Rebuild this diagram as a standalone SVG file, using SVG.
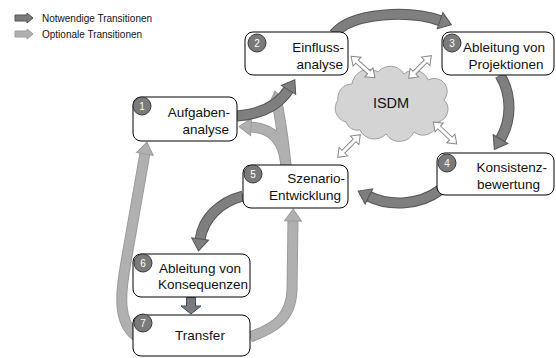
<svg xmlns="http://www.w3.org/2000/svg" width="556" height="358" viewBox="0 0 556 358">
<style>
text{font-family:"Liberation Sans",Arial,sans-serif;fill:#111}
.box{fill:#fff;stroke:#000;stroke-width:1}
.badge{fill:#7a7a7a;stroke:#3a3a3a;stroke-width:1}
.num{fill:#fff;font-size:10px;text-anchor:middle}
.lbl{font-size:13.5px}
.dkO{fill:none;stroke:#565656;stroke-width:11}
.dk{fill:none;stroke:#7f7f7f;stroke-width:9}
.ltO{fill:none;stroke:#9c9c9c;stroke-width:11}
.lt{fill:none;stroke:#b0b0b0;stroke-width:9}
.dbl{fill:#fff;stroke:#8a8a8a;stroke-width:1}
.leg{font-size:10px}
</style>
<defs>
<marker id="hd" markerUnits="userSpaceOnUse" markerWidth="24" markerHeight="24" refX="0" refY="12" orient="auto" overflow="visible">
<path d="M-1,3.5 L11,12 L-1,20.5 Z" fill="#7f7f7f" stroke="#565656" stroke-width="1"/>
</marker>
<marker id="hl" markerUnits="userSpaceOnUse" markerWidth="24" markerHeight="24" refX="0" refY="12" orient="auto" overflow="visible">
<path d="M-1,3.5 L11,12 L-1,20.5 Z" fill="#b0b0b0" stroke="#9c9c9c" stroke-width="1"/>
</marker>
<path id="dblA" d="M-16,0 L-8,-6 L-8,-2 L8,-2 L8,-6 L16,0 L8,6 L8,2 L-8,2 L-8,6 Z"/>
</defs>

<g id="legend">
<path d="M15,15 L27,15 L27,13 L33,18 L27,23 L27,21 L15,21 Z" fill="#7a7a7a" stroke="#555" stroke-width="1"/>
<text class="leg" x="42" y="21.5">Notwendige Transitionen</text>
<path d="M15,31 L27,31 L27,29 L33,34 L27,39 L27,37 L15,37 Z" fill="#b0b0b0" stroke="#9c9c9c" stroke-width="1"/>
<text class="leg" x="42" y="37.5">Optionale Transitionen</text>
</g>

<g id="cloud">
<path d="M346,122 A14,14 0 0 1 338,100 A14,14 0 0 1 352,84 A17,17 0 0 1 378,72 A16,16 0 0 1 404,74 A15,15 0 0 1 428,80 A13,13 0 0 1 444,100 A13,13 0 0 1 438,122 A15,15 0 0 1 414,132 A16,16 0 0 1 386,134 A16,16 0 0 1 360,130 A12,12 0 0 1 346,122 Z" fill="#d4d4d4" stroke="#a0a0a0" stroke-width="1"/>
<text x="391" y="108" font-size="14.5" text-anchor="middle">ISDM</text>
</g>

<g id="connectors">
<path class="ltO" d="M136,336 C118,322 120,295 126,262 L145,153"/>
<path class="lt" d="M136,336 C118,322 120,295 126,262 L145,153" marker-end="url(#hl)"/>
<path class="ltO" d="M250,337 C275,328 291,318 292,290 L293,220"/>
<path class="lt" d="M250,337 C275,328 291,318 292,290 L293,220" marker-end="url(#hl)"/>
<path class="ltO" d="M286,166 C284,140 280,118 277,102"/>
<path class="ltO" d="M286,166 C284,140 272,128 250,127"/>
<path class="lt" d="M286,166 C284,140 280,118 277,102" marker-end="url(#hl)"/>
<path class="lt" d="M286,166 C284,140 272,128 250,127" marker-end="url(#hl)"/>
<path class="dkO" d="M237,116 Q274,113 289,89"/>
<path class="dk" d="M237,116 Q274,113 289,89" marker-end="url(#hd)"/>
<path class="dkO" d="M334,34 C352,12 410,10 441,21"/>
<path class="dk" d="M334,34 C352,12 410,10 441,21" marker-end="url(#hd)"/>
<path class="dkO" d="M500,75 C512,95 512,120 500,140"/>
<path class="dk" d="M500,75 C512,95 512,120 500,140" marker-end="url(#hd)"/>
<path class="dkO" d="M440,190 C420,205 390,207 368,196"/>
<path class="dk" d="M440,190 C420,205 390,207 368,196" marker-end="url(#hd)"/>
<path class="dkO" d="M243,196 C220,202 203,218 200,240"/>
<path class="dk" d="M243,196 C220,202 203,218 200,240" marker-end="url(#hd)"/>
<path d="M186.5,297.5 L195.5,297.5 L195.5,306 L201,306 L191,314 L181,306 L186.5,306 Z" fill="#7a7a7a" stroke="#3b4f70" stroke-width="1"/>
<use href="#dblA" class="dbl" transform="translate(363,67) rotate(42)"/>
<use href="#dblA" class="dbl" transform="translate(420,67) rotate(135)"/>
<use href="#dblA" class="dbl" transform="translate(445,133) rotate(43)"/>
<use href="#dblA" class="dbl" transform="translate(349,146) rotate(135)"/>
</g>

<g id="node1">
<rect class="box" x="133" y="97" width="104" height="44" rx="8"/>
<circle class="badge" cx="142" cy="106" r="9"/>
<text class="num" x="142" y="109.5">1</text>
<text class="lbl" x="230" y="117" text-anchor="end">Aufgaben-</text>
<text class="lbl" x="229" y="134" text-anchor="end">analyse</text>
</g>
<g id="node2">
<rect class="box" x="245" y="32" width="103" height="43" rx="8"/>
<circle class="badge" cx="257" cy="43" r="9"/>
<text class="num" x="257" y="46.5">2</text>
<text class="lbl" x="344" y="52" text-anchor="end">Einfluss-</text>
<text class="lbl" x="343" y="69" text-anchor="end">analyse</text>
</g>
<g id="node3">
<rect class="box" x="442" y="32" width="112" height="43" rx="8"/>
<circle class="badge" cx="452" cy="43" r="9"/>
<text class="num" x="452" y="46.5">3</text>
<text class="lbl" x="504" y="52" text-anchor="middle">Ableitung von</text>
<text class="lbl" x="506" y="69" text-anchor="middle">Projektionen</text>
</g>
<g id="node4">
<rect class="box" x="437" y="153" width="117" height="42" rx="8"/>
<circle class="badge" cx="447" cy="163" r="9"/>
<text class="num" x="447" y="166.5">4</text>
<text class="lbl" x="547" y="172" text-anchor="end">Konsistenz-</text>
<text class="lbl" x="540" y="189" text-anchor="end">bewertung</text>
</g>
<g id="node5">
<rect class="box" x="243" y="165" width="105" height="43" rx="8"/>
<circle class="badge" cx="253" cy="174" r="9"/>
<text class="num" x="253" y="177.5">5</text>
<text class="lbl" x="345" y="183" text-anchor="end">Szenario-</text>
<text class="lbl" x="341" y="200" text-anchor="end">Entwicklung</text>
</g>
<g id="node6">
<rect class="box" x="133" y="254" width="117" height="43" rx="8"/>
<circle class="badge" cx="143" cy="263" r="9"/>
<text class="num" x="143" y="266.5">6</text>
<text class="lbl" x="200" y="273" text-anchor="middle">Ableitung von</text>
<text class="lbl" x="203" y="289" text-anchor="middle">Konsequenzen</text>
</g>
<g id="node7">
<rect class="box" x="133" y="315" width="117" height="41" rx="8"/>
<circle class="badge" cx="143" cy="323" r="9"/>
<text class="num" x="143" y="326.5">7</text>
<text class="lbl" x="200" y="340" text-anchor="middle">Transfer</text>
</g>
</svg>
